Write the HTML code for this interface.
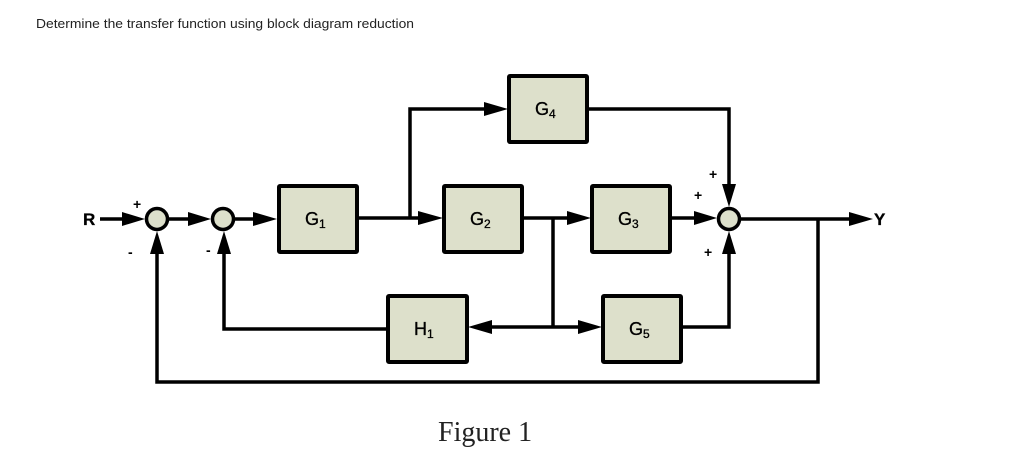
<!DOCTYPE html>
<html><head><meta charset="utf-8"><style>
html,body{margin:0;padding:0;background:#fff;}
svg{display:block;}
</style></head><body>
<svg width="1029" height="458" viewBox="0 0 1029 458" xmlns="http://www.w3.org/2000/svg">
<text x="36" y="28" font-family="Liberation Sans, sans-serif" font-size="13" textLength="378" lengthAdjust="spacingAndGlyphs" fill="#222">Determine the transfer function using block diagram reduction</text>
<g stroke="#000" stroke-width="3.5" fill="none" stroke-linejoin="miter">
<line x1="100" y1="219" x2="130" y2="219"/>
<path d="M122,212 L145,219 L122,226 z" fill="#000" stroke="none"/>
<line x1="169" y1="219" x2="195" y2="219"/>
<path d="M188,212 L211,219 L188,226 z" fill="#000" stroke="none"/>
<line x1="235" y1="219" x2="260" y2="219"/>
<path d="M253,212 L277,219 L253,226 z" fill="#000" stroke="none"/>
<line x1="357" y1="218" x2="425" y2="218"/>
<path d="M418,211 L443,218 L418,225 z" fill="#000" stroke="none"/>
<polyline points="410,218 410,109 490,109"/>
<path d="M484,102 L508,109 L484,116 z" fill="#000" stroke="none"/>
<polyline points="587,109 729,109 729,190"/>
<path d="M722,184 L729,207 L736,184 z" fill="#000" stroke="none"/>
<line x1="522" y1="218" x2="573" y2="218"/>
<path d="M567,211 L591,218 L567,225 z" fill="#000" stroke="none"/>
<polyline points="553,218 553,327"/>
<line x1="553" y1="327" x2="488" y2="327"/>
<path d="M492,320 L468,327 L492,334 z" fill="#000" stroke="none"/>
<line x1="553" y1="327" x2="585" y2="327"/>
<path d="M578,320 L602,327 L578,334 z" fill="#000" stroke="none"/>
<line x1="670" y1="218" x2="700" y2="218"/>
<path d="M694,211 L717,218 L694,225 z" fill="#000" stroke="none"/>
<polyline points="681,327 729,327 729,250"/>
<path d="M722,254 L729,231 L736,254 z" fill="#000" stroke="none"/>
<line x1="741" y1="219" x2="855" y2="219"/>
<path d="M849,212 L873,219 L849,226 z" fill="#000" stroke="none"/>
<polyline points="818,219 818,382 157,382 157,248"/>
<path d="M150,254 L157,231 L164,254 z" fill="#000" stroke="none"/>
<polyline points="387,329 224,329 224,248"/>
<path d="M217,254 L224,231 L231,254 z" fill="#000" stroke="none"/>
</g>
<g fill="#dde0cb" stroke="#000" stroke-width="3.5">
<circle cx="157" cy="219" r="10.5"/>
<circle cx="223" cy="219" r="10.5"/>
<circle cx="729" cy="219" r="10.5"/>
</g>
<g fill="#dde0cb" stroke="#000" stroke-width="4">
<rect x="279" y="186" width="78" height="66" rx="1"/>
<rect x="444" y="186" width="78" height="66" rx="1"/>
<rect x="509" y="76" width="78" height="66" rx="1"/>
<rect x="592" y="186" width="78" height="66" rx="1"/>
<rect x="388" y="296" width="79" height="66" rx="1"/>
<rect x="603" y="296" width="78" height="66" rx="1"/>
</g>
<g font-family="Liberation Sans, sans-serif" font-size="18" fill="#000" stroke="#000" stroke-width="0.3">
<text x="305" y="225">G<tspan font-size="12" dy="3">1</tspan></text>
<text x="470" y="225">G<tspan font-size="12" dy="3">2</tspan></text>
<text x="535" y="115">G<tspan font-size="12" dy="3">4</tspan></text>
<text x="618" y="225">G<tspan font-size="12" dy="3">3</tspan></text>
<text x="414" y="335">H<tspan font-size="12" dy="3">1</tspan></text>
<text x="629" y="335">G<tspan font-size="12" dy="3">5</tspan></text>
<text x="83" y="225" font-size="17" font-weight="bold">R</text>
<text x="874" y="225" font-size="17" font-weight="bold">Y</text>
</g>
<g font-family="Liberation Sans, sans-serif" font-size="14" font-weight="bold" fill="#000">
<text x="133" y="209">+</text>
<text x="128" y="257">-</text>
<text x="206" y="255">-</text>
<text x="709" y="179">+</text>
<text x="694" y="200">+</text>
<text x="704" y="257">+</text>
</g>
<text x="438" y="441" font-family="Liberation Serif, serif" font-size="28" fill="#222">Figure 1</text>
</svg>
</body></html>
